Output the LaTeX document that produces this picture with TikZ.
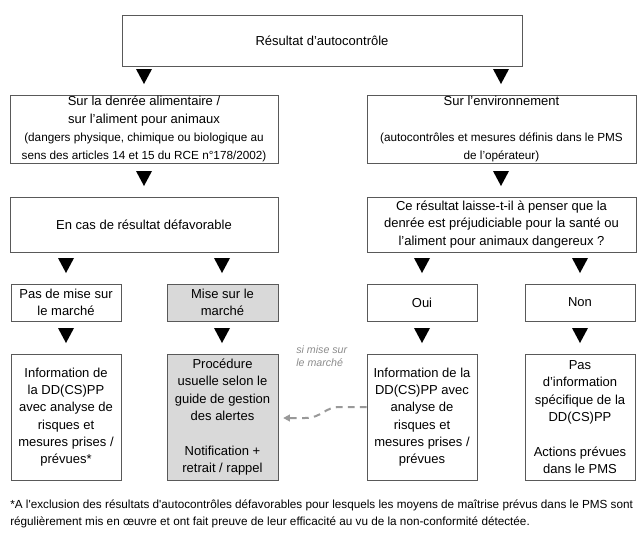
\documentclass[tikz,border=0pt]{standalone}
\usepackage{fontspec}
\setmainfont{Liberation Sans}
\usetikzlibrary{arrows.meta}
\begin{document}
\begin{tikzpicture}[x=0.75pt,y=-0.75pt,
  box/.style 2 args={draw=black!65, line width=0.75pt, inner sep=0pt, align=center,
    minimum width=#1*0.75pt, minimum height=#2*0.75pt,
    font=\fontsize{9.75}{13}\selectfont},
  greybox/.style={fill=black!15},
  arrowtri/.style={fill=black},
  note/.style={font=\fontsize{8.8}{12.2}\selectfont, align=left, inner sep=0pt, anchor=base west},
  aside/.style={font=\fontsize{8}{9.75}\selectfont\itshape, text=black!45, align=left, inner sep=0pt, anchor=base west},
  dashlink/.style={draw=black!40, line width=1.5pt, dash pattern=on 5pt off 4pt,
    -{Triangle[length=5pt,width=5pt]}}
]
\useasboundingbox (0,0) rectangle (644,533);

% boxes
\node[box={400}{51}] (top) at (322,40.5) {Résultat d’autocontrôle};
\node[box={268}{68}, font=\fontsize{9.75}{13.4}\selectfont] (food) at (144,129) {Sur la denrée alimentaire /\\ sur l’aliment pour animaux\\
  {\fontsize{8.8}{12.5}\selectfont (dangers physique, chimique ou biologique au}\\
  {\fontsize{8.8}{12.5}\selectfont sens des articles 14 et 15 du RCE n°178/2002)}};
\node[box={269}{68}, font=\fontsize{9.75}{13.4}\selectfont] (env) at (501.5,129) {Sur l’environnement\\[13.4pt]
  {\fontsize{8.8}{12.5}\selectfont (autocontrôles et mesures définis dans le PMS}\\
  {\fontsize{8.8}{12.5}\selectfont de l’opérateur)}};
\node[box={268}{55}] (bad) at (144,224.5) {En cas de résultat défavorable};
\node[box={269}{55}] (question) at (501.5,224.5) {Ce résultat laisse-t-il à penser que la\\
  denrée est préjudiciable pour la santé ou\\ l’aliment pour animaux dangereux ?};

\node[box={110}{37}] (nomarket) at (66,302.5) {Pas de mise sur\\le marché};
\node[box={111}{37}, greybox] (market) at (222.5,302.5) {Mise sur le\\marché};
\node[box={110}{37}] (yes) at (422,302.5) {Oui};
\node[box={110}{37}] (no) at (580,302.5) {Non};

\node[box={110}{126}] (info1) at (66,417) {Information de\\la DD(CS)PP\\avec analyse de\\risques et\\mesures prises /\\prévues*};
\node[box={111}{126}, greybox] (proc) at (222.5,417) {Procédure\\usuelle selon le\\guide de gestion\\des alertes\\[13pt]Notification +\\retrait / rappel};
\node[box={110}{126}] (info2) at (422,417) {Information de la\\DD(CS)PP avec\\analyse de\\risques et\\mesures prises /\\prévues};
\node[box={110}{126}] (noinfo) at (580,417) {Pas\\d’information\\spécifique de la\\DD(CS)PP\\[13pt]Actions prévues\\dans le PMS};

% triangles
\foreach \x/\y in {144/69, 501/69, 144/171, 501/171,
                   66/258, 222/258, 422/258, 580/258,
                   66/328, 222/328, 422/328, 580/328}
  \fill[arrowtri] (\x-8,\y) -- (\x+8,\y) -- (\x,\y+15) -- cycle;

% dashed link
\draw[dashlink] ([yshift=7.5pt]info2.west) -- (340,407)
  .. controls (324,407) and (322,418) .. (305,418) -- ([xshift=3.5pt,yshift=-0.75pt]proc.east);
\node[aside] (label) at (296,366) {si mise sur\\le marché};

% footnote
\node[note] (footnote) at (10,525) {*A l\textquotesingle exclusion des résultats d\textquotesingle autocontrôles défavorables pour lesquels les moyens de maîtrise prévus dans le PMS sont\\
régulièrement mis en œuvre et ont fait preuve de leur efficacité au vu de la non-conformité détectée.};
\end{tikzpicture}
\end{document}
